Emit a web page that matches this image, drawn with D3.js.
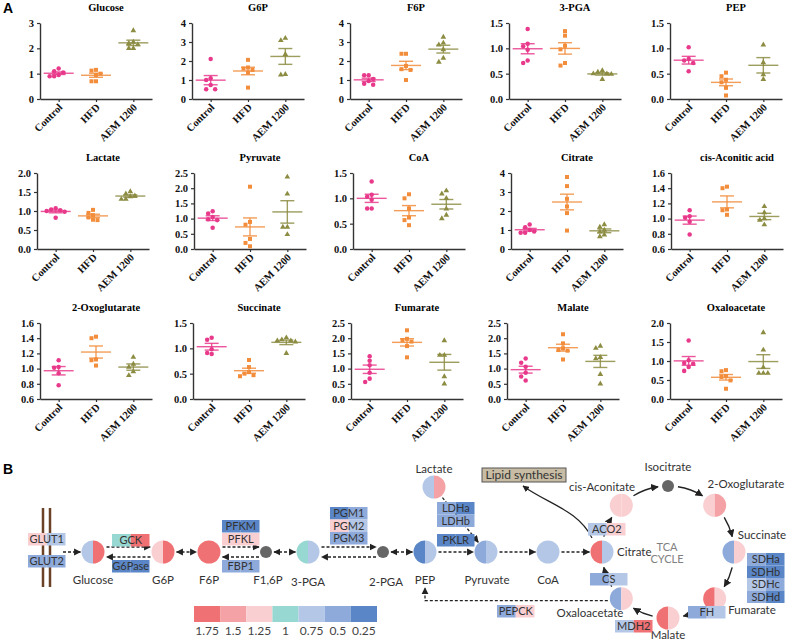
<!DOCTYPE html>
<html>
<head>
<meta charset="utf-8">
<script src="https://cdn.jsdelivr.net/npm/d3@7"></script>
<style>
body { margin: 0; background: #fff; }
svg { display: block; }
</style>
</head>
<body>
<svg id="fig" width="787" height="642"></svg>
<script>
// ---- Panel A data ----
const groups = ["Control", "HFD", "AEM 1200"];
const panelNames = ["Glucose", "G6P", "F6P", "3-PGA", "PEP",
    "Lactate", "Pyruvate", "CoA", "Citrate", "cis-Aconitic acid",
    "2-Oxoglutarate", "Succinate", "Fumarate", "Malate", "Oxaloacetate"];
const yMin  = [0, 0, 0, 0, 0,   0, 0, 0, 0, 0.6,   0.6, 0, 0, 0, 0];
const yMax  = [3, 4, 4, 1.5, 1.5,   2, 2.5, 1.5, 4, 1.6,   1.6, 1.5, 2.5, 2.5, 2];
const yStep = [1, 1, 1, 0.5, 0.5,   0.5, 0.5, 0.5, 1, 0.2,   0.2, 0.5, 0.5, 0.5, 0.5];

const controlVals = [
    [1.2, 1.1, 1.05, 0.95, 0.9, 0.9],
    [2.1, 1.09, 1.0, 0.74, 0.51, 0.51],
    [1.25, 1.25, 1.05, 0.95, 0.75, 0.8],
    [1.38, 1.09, 1.04, 0.97, 0.76, 0.71],
    [1.02, 0.79, 0.76, 0.71, 0.55],
    [1.07, 1.04, 1.02, 1.0, 0.98, 0.82],
    [1.24, 1.17, 1.05, 0.98, 0.95, 0.7],
    [1.33, 1.07, 1.03, 0.97, 0.8, 0.8],
    [1.29, 1.15, 1.0, 0.92, 0.86, 0.86],
    [1.11, 1.03, 1.01, 0.96, 0.79],
    [1.11, 1.02, 1.01, 0.94, 0.78],
    [1.21, 1.17, 0.98, 0.91, 0.89],
    [1.41, 1.26, 1.11, 0.86, 0.67, 0.56],
    [1.33, 1.19, 1.06, 0.86, 0.74, 0.61],
    [1.54, 1.02, 0.95, 0.93, 0.84, 0.74]
];
const hfdVals = [
    [1.15, 1.12, 1.0, 0.95, 0.7, 0.7],
    [2.06, 1.66, 1.6, 1.53, 1.39, 0.6],
    [2.38, 2.38, 1.74, 1.57, 1.53, 1.0],
    [1.34, 1.25, 1.05, 0.98, 0.71, 0.66],
    [0.52, 0.45, 0.38, 0.33, 0.22, 0.07],
    [1.03, 0.95, 0.89, 0.83, 0.77, 0.76],
    [2.05, 0.89, 0.8, 0.33, 0.2, 0.09],
    [1.08, 1.0, 0.8, 0.62, 0.57, 0.47],
    [3.79, 3.31, 2.64, 2.24, 1.89, 0.97],
    [1.42, 1.4, 1.12, 1.11, 1.05],
    [1.42, 1.4, 1.12, 1.11, 1.04],
    [0.77, 0.63, 0.53, 0.5, 0.47, 0.45],
    [2.26, 1.98, 1.94, 1.89, 1.74, 1.37],
    [2.13, 1.83, 1.67, 1.61, 1.59, 1.3],
    [0.76, 0.73, 0.6, 0.58, 0.49, 0.27]
];
const aemVals = [
    [2.7, 2.25, 2.15, 2.2, 2.0, 2.0],
    [3.2, 3.08, 2.35, 1.3, 1.27],
    [3.26, 2.95, 2.85, 2.6, 2.15, 1.94],
    [0.56, 0.53, 0.5, 0.5, 0.49, 0.39],
    [1.07, 0.72, 0.48, 0.39],
    [1.51, 1.45, 1.4, 1.38, 1.31, 1.31],
    [2.37, 1.81, 0.72, 0.72, 0.48],
    [1.15, 1.09, 1.0, 0.79, 0.67, 0.6],
    [1.29, 1.15, 1.0, 0.9, 0.75, 0.65],
    [1.16, 1.08, 1.0, 0.98, 0.92],
    [1.15, 1.06, 1.02, 0.96, 0.91],
    [1.21, 1.17, 1.15, 1.15, 1.13, 0.9],
    [1.92, 1.44, 1.44, 0.74, 0.5],
    [1.74, 1.67, 1.37, 1.33, 0.81, 0.5],
    [1.75, 1.29, 0.83, 0.68, 0.68, 0.68]
];

// ---- Panel B data ----
const levels = ["1.75", "1.5", "1.25", "1", "0.75", "0.5", "0.25"];
const metabolites = ["Glucose", "G6P", "F6P", "F1,6P", "3-PGA", "2-PGA", "PEP", "Pyruvate", "CoA", "Lactate",
    "Citrate", "cis-Aconitate", "Isocitrate", "2-Oxoglutarate", "Succinate", "Fumarate", "Malate", "Oxaloacetate"];
const metaboliteLevels = [["0.75", "1.75"], ["1.25", "1.75"], ["1.75", "1.75"], null, ["1", "0.75"], null,
    ["0.25", "0.75"], ["0.5", "0.75"], ["0.75", "0.75"], ["0.75", "1.5"],
    ["1.75", "0.75"], ["1.25", "1.25"], null, ["1.25", "1.5"], ["0.5", "1.25"], ["1.75", "1.25"], ["1.75", "1.25"], ["0.5", "1.25"]];
const enzymes = ["GLUT1", "GLUT2", "GCK", "G6Pase", "PFKM", "PFKL", "FBP1", "PGM1", "PGM2", "PGM3",
    "LDHa", "LDHb", "PKLR", "ACO2", "CS", "PEPCK", "MDH2", "FH", "SDHa", "SDHb", "SDHc", "SDHd"];
const enzymeLevels = [["1.25", "0.75"], ["0.5", "0.5"], ["1", "1.75"], ["0.25", "0.25"], ["0.25", "0.25"], ["1.25", "1.25"],
    ["0.5", "0.5"], ["0.25", "0.5"], ["1.25", "0.75"], ["0.5", "0.5"],
    ["0.5", "0.25"], ["0.5", "0.5"], ["0.25", "0.25"], ["0.75", "1.25"], ["0.5", "0.75"], ["0.5", "1.25"],
    ["0.75", "1.75"], ["0.5", "0.75"], ["0.5", "0.25"], ["0.25", "0.25"], ["0.75", "0.5"], ["0.5", "0.25"]];

const svg = d3.select("#fig");
const serif = "'Liberation Serif', 'Times New Roman', serif";
const sans = "Lato, 'Open Sans', sans-serif";

svg.append("text").attr("x", 3).attr("y", 13).text("A")
    .style("font", "bold 14px 'Liberation Sans', Arial, sans-serif");
svg.append("text").attr("x", 3).attr("y", 474).text("B")
    .style("font", "bold 14px 'Liberation Sans', Arial, sans-serif");

// ---- Panel A: scatter plots ----
const groupColor = ["#e8398b", "#f28d3c", "#8c8c43"];
const groupSymbol = [d3.symbolCircle, d3.symbolSquare, d3.symbolTriangle];
const axisLeftX = [[40, 192, 350, 509, 670], [37, 194, 353, 511, 671], [40, 193, 351, 507, 670]];
const plotW = 112, plotH = 76;

// simple beeswarm so points with close values sit side by side
function swarm(vals, y) {
    const placed = [];
    const offs = [0, -4.5, 4.5, -9, 9, -13.5, 13.5];
    vals.slice().sort((a, b) => b - a).forEach(v => {
        const py = y(v);
        let dx = offs.find(o => placed.every(q => Math.hypot(q.dx - o, q.py - py) >= 4.4));
        if (dx === undefined) dx = 0;
        placed.push({ v, py, dx });
    });
    return placed;
}

panelNames.forEach((name, i) => {
    const row = Math.floor(i / 5), col = i % 5;
    const x0 = axisLeftX[row][col], y0 = 23 + row * 150;
    const g = svg.append("g").attr("transform", `translate(${x0},${y0})`);

    const x = d3.scalePoint().domain(groups).range([0, plotW]).padding(0.5);
    const y = d3.scaleLinear().domain([yMin[i], yMax[i]]).range([plotH, 0]);
    const ticks = d3.range(yMin[i], yMax[i] + 1e-6, yStep[i]);
    const fmt = yStep[i] >= 1 ? d3.format("d") : d3.format(".1f");

    g.append("text")
        .attr("x", 66).attr("y", -12)
        .attr("text-anchor", "middle")
        .style("font", `bold 10.5px ${serif}`)
        .text(name);

    const ya = g.append("g")
        .call(d3.axisLeft(y).tickValues(ticks).tickFormat(fmt).tickSize(3).tickSizeOuter(0));
    ya.selectAll("text").style("font", `bold 10.5px ${serif}`).attr("fill", "#111");

    const xa = g.append("g").attr("transform", `translate(0,${plotH})`)
        .call(d3.axisBottom(x).tickSize(3).tickSizeOuter(0));
    xa.selectAll("text")
        .attr("x", 0).attr("y", 0).attr("dy", 0)
        .attr("text-anchor", "end")
        .attr("transform", "translate(4,9) rotate(-45)")
        .style("font", `bold 10.5px ${serif}`).attr("fill", "#111");

    g.selectAll(".domain").attr("stroke", "#333").attr("stroke-width", 1.4);
    g.selectAll(".tick line").attr("stroke", "#333").attr("stroke-width", 1.2);

    [controlVals[i], hfdVals[i], aemVals[i]].forEach((vals, k) => {
        const cx = x(groups[k]);
        const c = groupColor[k];
        g.selectAll(null).data(swarm(vals, y)).join("path")
            .attr("d", d3.symbol().type(groupSymbol[k]).size(k === 2 ? 14 : 16))
            .attr("transform", d => `translate(${cx + d.dx},${d.py})`)
            .attr("fill", c);

        const m = d3.mean(vals);
        const sem = d3.deviation(vals) / Math.sqrt(vals.length);
        const lines = [
            [cx - 15, y(m), cx + 15, y(m)],
            [cx, y(m - sem), cx, y(m + sem)],
            [cx - 7, y(m - sem), cx + 7, y(m - sem)],
            [cx - 7, y(m + sem), cx + 7, y(m + sem)]
        ];
        g.selectAll(null).data(lines).join("line")
            .attr("x1", d => d[0]).attr("y1", d => d[1])
            .attr("x2", d => d[2]).attr("y2", d => d[3])
            .attr("stroke", c).attr("stroke-width", 1.4).attr("opacity", 0.85);
    });
});

// ---- Panel B: pathway ----
const levelColor = d3.scaleOrdinal().domain(levels)
    .range(["#f07173", "#f4a2a5", "#f9cfd2", "#98d8d2", "#b4c7e7", "#8eaadb", "#5a86c7"]);

const defs = svg.append("defs");
defs.append("marker").attr("id", "ah")
    .attr("viewBox", "0 0 10 10").attr("refX", 9).attr("refY", 5)
    .attr("markerWidth", 5.5).attr("markerHeight", 5.5)
    .attr("orient", "auto-start-reverse")
    .append("path").attr("d", "M0,0 L10,5 L0,10 z").attr("fill", "#222");

const B = svg.append("g");

// node layout
const nodePos = {
    "Glucose": [93, 552], "G6P": [163, 552], "F6P": [209, 552], "F1,6P": [266, 552], "3-PGA": [308, 552],
    "2-PGA": [383, 552], "PEP": [425, 552], "Pyruvate": [486, 552], "CoA": [548, 552], "Lactate": [434, 487]
};
const tca = { cx: 668, cy: 552, r: 66 };
const tcaOrder = ["Citrate", "cis-Aconitate", "Isocitrate", "2-Oxoglutarate", "Succinate", "Fumarate", "Malate", "Oxaloacetate"];
const tcaAngle = {};
tcaOrder.forEach((n, k) => {
    const a = Math.PI + k * Math.PI / 4;
    tcaAngle[n] = a;
    nodePos[n] = [tca.cx + tca.r * Math.cos(a), tca.cy + tca.r * Math.sin(a)];
});
const bigR = 11.5, smallR = 6;
const nodeR = n => metaboliteLevels[metabolites.indexOf(n)] ? bigR : smallR;

// membrane
B.selectAll(null).data([43, 50]).join("line")
    .attr("x1", d => d).attr("x2", d => d).attr("y1", 508).attr("y2", 587)
    .attr("stroke", "#6b4226").attr("stroke-width", 2.5);

// dashed links
const dash = "3,2";
function dline(x1, y1, x2, y2, both) {
    B.append("line").attr("x1", x1).attr("y1", y1).attr("x2", x2).attr("y2", y2)
        .attr("stroke", "#222").attr("stroke-width", 1.3).attr("stroke-dasharray", dash)
        .attr("marker-end", "url(#ah)")
        .attr("marker-start", both ? "url(#ah)" : null);
}
const mainLinks = [["Glucose", "G6P", "pair"], ["G6P", "F6P", "both"], ["F6P", "F1,6P", "pair"], ["F1,6P", "3-PGA", "both"],
    ["3-PGA", "2-PGA", "pair"], ["2-PGA", "PEP", "both"], ["PEP", "Pyruvate", "fwd"], ["Pyruvate", "CoA", "fwd"], ["CoA", "Citrate", "fwd"]];
mainLinks.forEach(([a, b, kind]) => {
    const xa = nodePos[a][0] + nodeR(a) + 2, xb = nodePos[b][0] - nodeR(b) - 1, yy = nodePos[a][1];
    if (kind === "pair") {
        dline(xa, yy - 5, xb, yy - 5, false);
        dline(xb, yy + 5, xa, yy + 5, false);
    } else {
        dline(xa, yy, xb, yy, kind === "both");
    }
});
dline(63, 552, nodePos["Glucose"][0] - bigR - 1, 552, false);
{
    const [lx, ly] = nodePos["Lactate"], [px, py] = nodePos["Pyruvate"];
    const len = Math.hypot(px - lx, py - ly), ux = (px - lx) / len, uy = (py - ly) / len;
    dline(lx + ux * (bigR + 2), ly + uy * (bigR + 2), px - ux * (bigR + 1), py - uy * (bigR + 1), false);
}
{
    const [ox, oy] = nodePos["Oxaloacetate"], pepX = nodePos["PEP"][0];
    B.append("path").attr("d", `M${ox - bigR - 2},${oy + 2} H${pepX} V588`)
        .attr("fill", "none").attr("stroke", "#222").attr("stroke-width", 1.3)
        .attr("stroke-dasharray", dash).attr("marker-end", "url(#ah)");
}

// TCA cycle arcs
tcaOrder.forEach((n, k) => {
    const m = tcaOrder[(k + 1) % tcaOrder.length];
    let a0 = tcaAngle[n] + (nodeR(n) + 4) / tca.r;
    let a1 = tcaAngle[m] - (nodeR(m) + 4) / tca.r;
    if (a1 < a0) a1 += 2 * Math.PI;
    const p = d3.path();
    p.arc(tca.cx, tca.cy, tca.r, a0, a1);
    B.append("path").attr("d", p.toString()).attr("fill", "none")
        .attr("stroke", "#222").attr("stroke-width", 1.4).attr("marker-end", "url(#ah)");
});

// citrate -> lipid synthesis
B.append("path").attr("d", "M592,538 C578,510 548,504 523,486")
    .attr("fill", "none").attr("stroke", "#222").attr("stroke-width", 1.2).attr("marker-end", "url(#ah)");
B.append("rect").attr("x", 482).attr("y", 468).attr("width", 84).attr("height", 14)
    .attr("fill", "#c8bca4").attr("stroke", "#555").attr("stroke-width", 1);
B.append("text").attr("x", 524).attr("y", 479).attr("text-anchor", "middle")
    .style("font", `12px ${sans}`).attr("fill", "#333").text("Lipid synthesis");

// metabolite circles
const half = d3.arc().innerRadius(0).outerRadius(bigR);
metabolites.forEach((n, k) => {
    const [cx, cy] = nodePos[n];
    const lv = metaboliteLevels[k];
    const gg = B.append("g").attr("transform", `translate(${cx},${cy})`);
    if (!lv) {
        gg.append("circle").attr("r", smallR).attr("fill", "#666");
        return;
    }
    gg.append("path").attr("d", half({ startAngle: Math.PI, endAngle: 2 * Math.PI })).attr("fill", levelColor(lv[0]));
    gg.append("path").attr("d", half({ startAngle: 0, endAngle: Math.PI })).attr("fill", levelColor(lv[1]));
});

// metabolite labels
const labelPos = {
    "Glucose": [93, 584, "middle"], "G6P": [163, 584, "middle"], "F6P": [209, 584, "middle"], "F1,6P": [268, 584, "middle"],
    "3-PGA": [308, 586, "middle"], "2-PGA": [386, 586, "middle"], "PEP": [425, 584, "middle"], "Pyruvate": [487, 584, "middle"],
    "CoA": [548, 584, "middle"], "Lactate": [434, 473, "middle"], "Citrate": [617, 556, "start"], "Isocitrate": [668, 471, "middle"],
    "cis-Aconitate": [602, 491, "middle"], "2-Oxoglutarate": [746, 488, "middle"], "Succinate": [762, 539, "middle"],
    "Fumarate": [752, 614, "middle"], "Malate": [668, 639, "middle"], "Oxaloacetate": [590, 617, "middle"]
};
metabolites.forEach(n => {
    const [lx, ly, anc] = labelPos[n];
    B.append("text").attr("x", lx).attr("y", ly).attr("text-anchor", anc)
        .style("font", `11.5px ${sans}`).attr("fill", "#333").text(n);
});
B.selectAll(null).data(["TCA", "CYCLE"]).join("text")
    .attr("x", 667).attr("y", (d, k) => 551 + k * 12).attr("text-anchor", "middle")
    .style("font", `11px ${sans}`).attr("fill", "#808080").text(d => d);

// enzyme boxes
const boxPos = {
    "GLUT1": [28, 533], "GLUT2": [28, 555], "GCK": [112, 534], "G6Pase": [112, 560],
    "PFKM": [222, 520], "PFKL": [222, 533], "FBP1": [222, 560],
    "PGM1": [330, 507], "PGM2": [330, 519.5], "PGM3": [330, 532],
    "LDHa": [437, 502], "LDHb": [437, 514.5], "PKLR": [437, 534],
    "ACO2": [588, 523], "CS": [590, 573], "PEPCK": [497, 605], "MDH2": [615, 620], "FH": [688, 606],
    "SDHa": [747, 553], "SDHb": [747, 565.5], "SDHc": [747, 578], "SDHd": [747, 590.5]
};
const boxW = 37.5, boxH = 12.5;
enzymes.forEach((n, k) => {
    const [bx, by] = boxPos[n];
    const lv = enzymeLevels[k];
    const gg = B.append("g").attr("transform", `translate(${bx},${by})`);
    gg.append("rect").attr("width", boxW / 2).attr("height", boxH).attr("fill", levelColor(lv[0]));
    gg.append("rect").attr("x", boxW / 2).attr("width", boxW / 2).attr("height", boxH).attr("fill", levelColor(lv[1]));
    gg.append("text").attr("x", boxW / 2).attr("y", boxH / 2 + 4).attr("text-anchor", "middle")
        .style("font", `11px ${sans}`).attr("fill", "#333").text(n);
});

// colour scale legend
const lx = d3.scaleBand().domain(levels).range([194, 377]);
B.selectAll(null).data(levels).join("rect")
    .attr("x", d => lx(d)).attr("y", 606).attr("width", lx.bandwidth()).attr("height", 16)
    .attr("fill", d => levelColor(d));
B.selectAll(null).data(levels).join("text")
    .attr("x", d => lx(d) + lx.bandwidth() / 2).attr("y", 635).attr("text-anchor", "middle")
    .style("font", `12px ${sans}`).attr("fill", "#444").text(d => d);
</script>
</body>
</html>
